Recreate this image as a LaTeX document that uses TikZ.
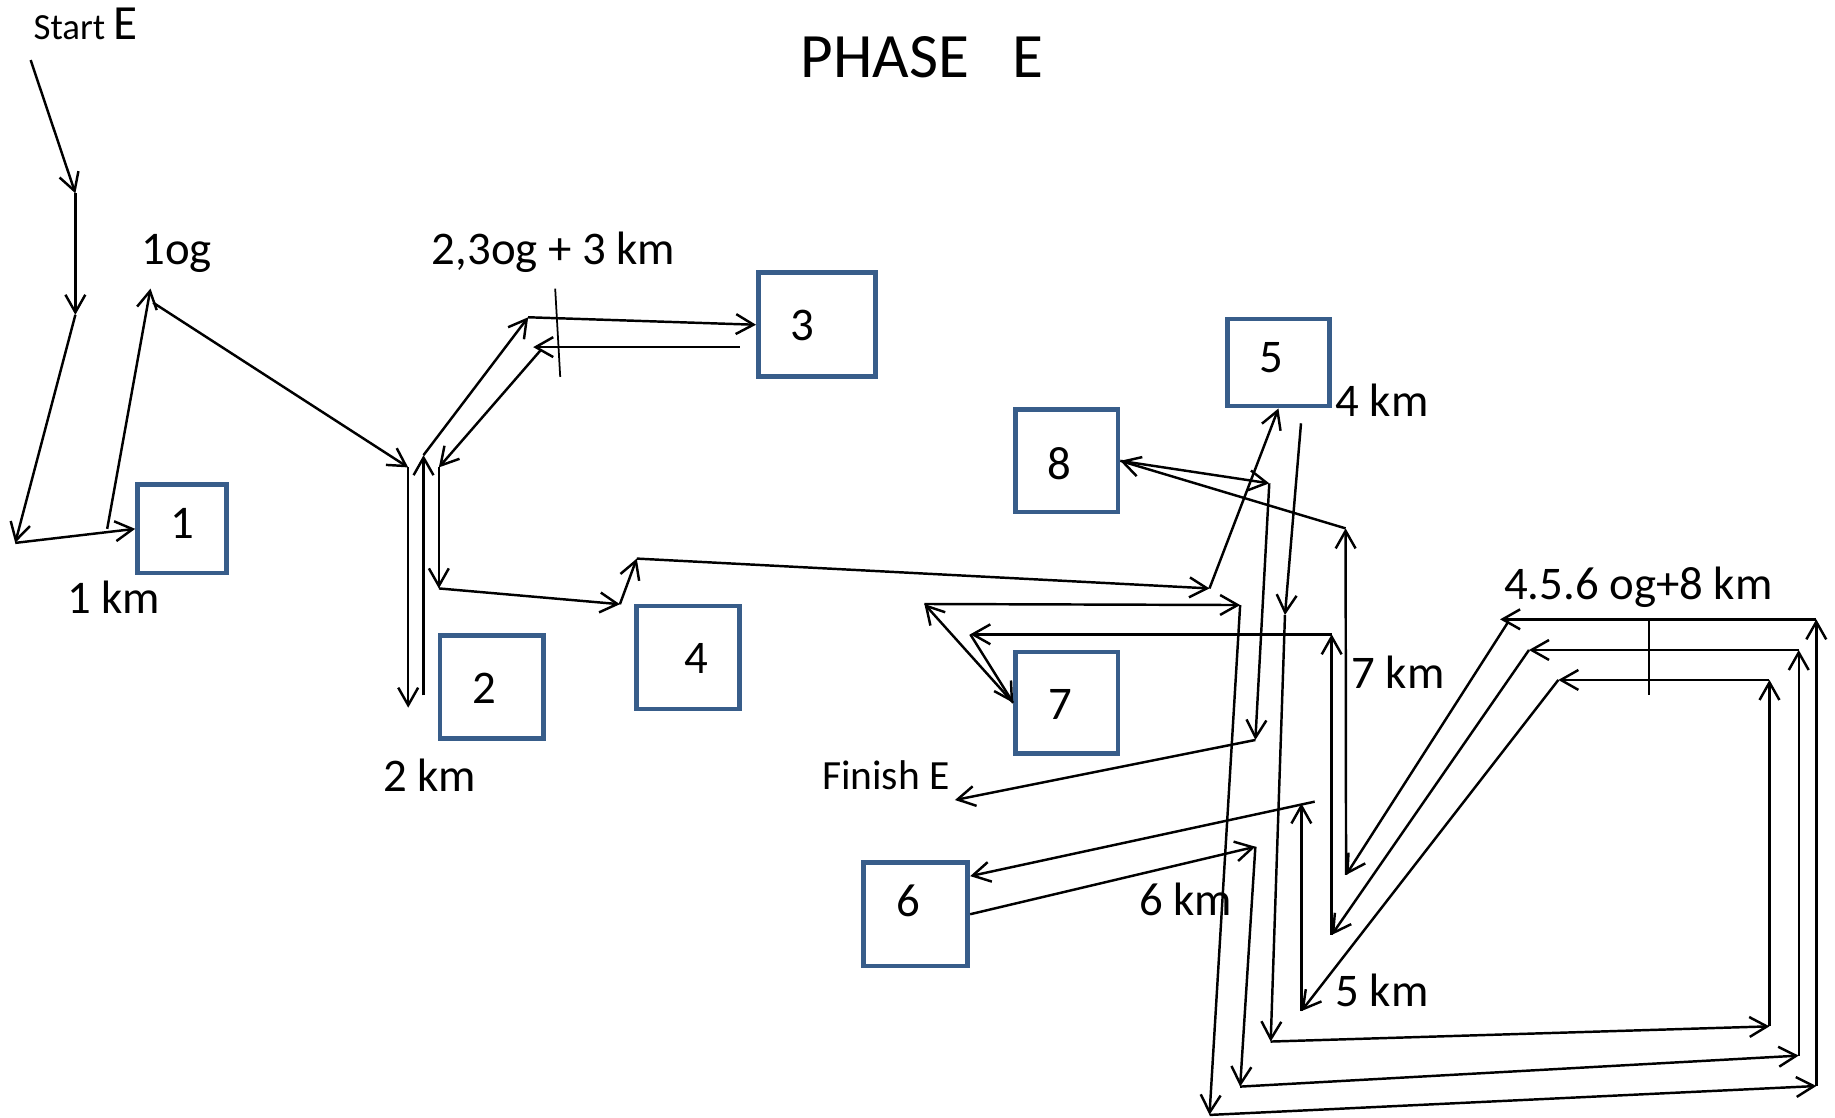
\documentclass[tikz,border=0pt]{standalone}
\usepackage{fontspec}
\setmainfont{Carlito}
\usetikzlibrary{arrows.meta}
\definecolor{boxblue}{HTML}{385D8A}
\begin{document}
\begin{tikzpicture}[x=1pt,y=-1pt,
  conn/.style={line width=2.1pt, -{Straight Barb[length=15pt,width=17pt]}},
  tick/.style={line width=1.5pt},
  box/.style={draw=boxblue, line width=4pt, inner sep=0pt},
  lbl/.style={anchor=base, inner sep=0pt, font=\fontsize{40}{48}\selectfont},
  digit/.style={inner sep=0pt, font=\fontsize{40}{48}\selectfont},
]
\useasboundingbox (0,0) rectangle (1568,955.3);

% ---------- titles and labels ----------
\node[anchor=base west, inner sep=0pt] (start) at (28.5,33.6)
  {\fontsize{31.5}{38}\selectfont Start \fontsize{42}{50}\selectfont E};
\node[anchor=base west, inner sep=0pt, font=\fontsize{54}{64}\selectfont] (title) at (684,66.1) {PHASE~~~E};
\node[lbl] (l1og) at (151,226.4) {1og};
\node[lbl] (l23og) at (473,226.4) {2,3og + 3 km};
\node[lbl] (l1km) at (97,524) {1 km};
\node[lbl] (l2km) at (367,676.6) {2 km};
\node[lbl] (l4km) at (1181,356) {4 km};
\node[lbl] (l7km) at (1194.5,588) {7 km};
\node[lbl] (l5km) at (1181,860) {5 km};
\node[lbl] (l456) at (1400,512) {4.5.6 og+8 km};
\node[lbl] (l6km) at (1013,782.5) {6 km};
\node[anchor=base, inner sep=0pt, font=\fontsize{35.5}{42}\selectfont] (finish) at (757,675) {Finish E};

% ---------- boxes ----------
\node[box, minimum width=75.8pt, minimum height=75.7pt] (b1) at (155.4,451.9) {};
\node[box, minimum width=88.5pt, minimum height=88pt] (b2) at (420.3,587) {};
\node[box, minimum width=100pt, minimum height=89pt] (b3) at (698,277.5) {};
\node[box, minimum width=88pt, minimum height=88pt] (b4) at (588,561.7) {};
\node[box, minimum width=87.5pt, minimum height=74.5pt] (b5) at (1092.4,309.8) {};
\node[box, minimum width=87.5pt, minimum height=87.5pt] (b8) at (911.5,393.8) {};
\node[box, minimum width=87.5pt, minimum height=87pt] (b7) at (911.5,600.5) {};
\node[box, minimum width=89pt, minimum height=88.5pt] (b6) at (782.5,781.2) {};
\node[digit] (d1) at (156,447) {1};
\node[digit] (d2) at (414,588) {2};
\node[digit] (d3) at (686,278) {3};
\node[digit] (d4) at (595,563) {4};
\node[digit] (d5) at (1086,305.5) {5};
\node[digit] (d8) at (905,396) {8};
\node[digit] (d7) at (906,602) {7};
\node[digit] (d6) at (776,770) {6};

% ---------- way points ----------
\coordinate (s0) at (26.2,51.3);
\coordinate (s1) at (64.4,165.2);
\coordinate (s2) at (64.4,269);
\coordinate (s3) at (13,463.9);
\coordinate (s4) at (91.6,451.9);
\coordinate (s5) at (128.6,246.6);
\coordinate (s6) at (130.8,258.6);
\coordinate (s7) at (348.8,399.4);
\coordinate (s8) at (348.8,604.7);
\coordinate (s9) at (361.9,594.2);
\coordinate (s10) at (361.9,388.9);
\coordinate (s11) at (451.3,271.1);
\coordinate (s12) at (632.2,296.6);
\coordinate (s13) at (455.6,296.6);
\coordinate (s14) at (462.2,299);
\coordinate (s15) at (375,399.4);
\coordinate (s16) at (375,502.8);
\coordinate (s17) at (529.7,516.3);
\coordinate (s18) at (544.1,477.3);
\coordinate (s19) at (1033.5,502.8);
\coordinate (s20) at (1111.7,361.7);
\coordinate (s21) at (1098,525.5);
\coordinate (s22) at (1085.8,890);
\coordinate (s23) at (1512,877);
\coordinate (s24) at (1512,581);
\coordinate (s25) at (1331.6,581);
\coordinate (s26) at (1112,864);
\coordinate (s27) at (1112,686.5);
\coordinate (s28) at (1123.4,685);
\coordinate (s30) at (1072.7,723.5);
\coordinate (s31) at (1059.7,928.5);
\coordinate (s32) at (1537,902);
\coordinate (s33) at (1537,555.4);
\coordinate (s34) at (1306.5,555.4);
\coordinate (s35) at (1137.9,798.9);
\coordinate (s36) at (1137.9,542);
\coordinate (s37) at (829.1,542);
\coordinate (s38) at (789.9,516.1);
\coordinate (s39) at (1059.7,517);
\coordinate (s40) at (1033.5,952.7);
\coordinate (s41) at (1552,928);
\coordinate (s42) at (1552,529.2);
\coordinate (s43) at (1281.8,529.2);
\coordinate (s43b) at (1289,531);
\coordinate (s44) at (1150.2,747.6);
\coordinate (s45) at (1149.8,451.5);
\coordinate (s46) at (1084.6,413);
\coordinate (s47) at (1072.7,632.3);
\coordinate (s48) at (816,683.6);
\coordinate (t1a) at (474.4,246.6);
\coordinate (t1b) at (478.7,322.1);
\coordinate (t2a) at (1409,531);
\coordinate (t2b) at (1409,594);

% ---------- route ----------
\draw[conn] (s0) -- (s1);
\draw[conn] (s1) -- (s2);
\draw[conn] (s2) -- (s3);
\draw[conn] (s3) -- (b1.west);
\draw[conn] (s4) -- (s5);
\draw[conn] (s6) -- (s7);
\draw[conn] (s7) -- (s8);
\draw[conn] (s9) -- (s10);
\draw[conn] (s10) -- (s11);
\draw[conn] (s11) -- (b3.west);
\draw[conn] (s12) -- (s13);
\draw[conn] (s14) -- (s15);
\draw[conn] (s15) -- (s16);
\draw[conn] (s16) -- (s17);
\draw[conn] (s17) -- (s18);
\draw[conn] (s18) -- (s19);
\draw[conn] (s19) -- (b5.south);
\draw[conn] (s20) -- (s21);
\draw[conn] (s21) -- (s22);
\draw[conn] (s22) -- (s23);
\draw[conn] (s23) -- (s24);
\draw[conn] (s24) -- (s25);
\draw[conn] (s25) -- (s26);
\draw[conn] (s26) -- (s27);
\draw[conn] (s28) -- (b6.35.7);
\draw[conn] (b6.east) -- (s30);
\draw[conn] (s30) -- (s31);
\draw[conn] (s31) -- (s32);
\draw[conn] (s32) -- (s33);
\draw[conn] (s33) -- (s34);
\draw[conn] (s34) -- (s35);
\draw[conn] (s35) -- (s36);
\draw[conn] (s36) -- (s37);
\draw[conn] (s37) -- (b7.west);
\draw[conn] (b7.west) -- (s38);
\draw[conn] (s38) -- (s39);
\draw[conn] (s39) -- (s40);
\draw[conn] (s40) -- (s41);
\draw[conn] (s41) -- (s42);
\draw[conn] (s42) -- (s43);
\draw[conn] (s43b) -- (s44);
\draw[conn] (s44) -- (s45);
\draw[conn] (s45) -- (b8.east);
\draw[conn] (b8.east) -- (s46);
\draw[conn] (s46) -- (s47);
\draw[conn] (s47) -- (s48);

% ---------- tick marks ----------
\draw[tick] (t1a) -- (t1b);
\draw[tick] (t2a) -- (t2b);
\end{tikzpicture}
\end{document}
